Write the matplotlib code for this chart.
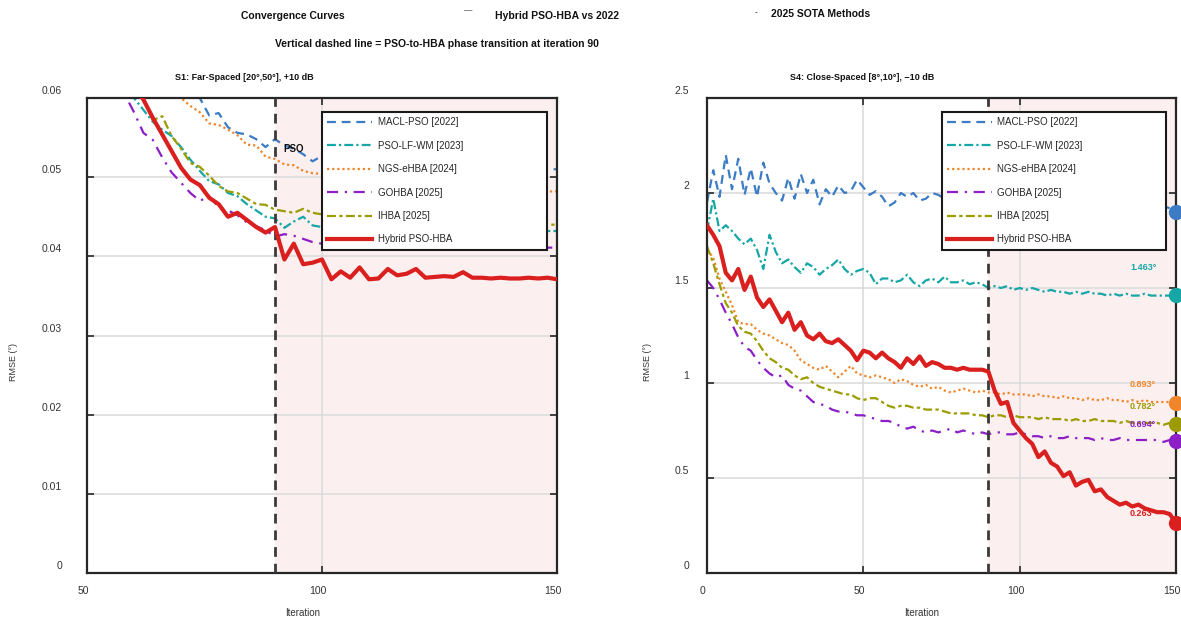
import numpy as np
import matplotlib
matplotlib.use("Agg")
import matplotlib.pyplot as plt
from matplotlib.transforms import ScaledTranslation

plt.rcParams['font.family'] = ['Liberation Sans', 'DejaVu Sans']

# ---------------- data ----------------
methods = ["MACL-PSO [2022]", "PSO-LF-WM [2023]", "NGS-eHBA [2024]",
           "GOHBA [2025]", "IHBA [2025]", "Hybrid PSO-HBA"]

# S1 panel (iterations 50..150 step 2)
it_s1 = np.arange(50, 151, 2)
s1_macl = [0.082, 0.080, 0.078, 0.076, 0.074, 0.072, 0.070, 0.068, 0.066, 0.064,
           0.0625, 0.0612, 0.0600, 0.0578, 0.0581, 0.0563, 0.0556, 0.0554, 0.0548, 0.0538,
           0.0548, 0.0540, 0.0536, 0.0529, 0.0520, 0.0527, 0.0522, 0.0524, 0.0519, 0.0521,
           0.0518, 0.0520, 0.0516, 0.0518, 0.0515, 0.0516, 0.0514, 0.0515, 0.0513, 0.0514,
           0.0512, 0.0513, 0.0512, 0.0511, 0.0512, 0.0511, 0.0510, 0.0511, 0.0510, 0.0510,
           0.0510]
s1_psolf = [0.070, 0.067, 0.065, 0.063, 0.0615, 0.0600, 0.0585, 0.0570, 0.0560, 0.0552,
            0.0538, 0.0522, 0.0508, 0.0495, 0.0491, 0.0480, 0.0476, 0.0466, 0.0458, 0.0450,
            0.0448, 0.0436, 0.0444, 0.0450, 0.0439, 0.0437, 0.0438, 0.0437, 0.0436, 0.0437,
            0.0436, 0.0436, 0.0435, 0.0435, 0.0434, 0.0435, 0.0434, 0.0434, 0.0433, 0.0434,
            0.0433, 0.0433, 0.0433, 0.0432, 0.0433, 0.0432, 0.0432, 0.0432, 0.0432, 0.0432,
            0.0432]
s1_ngs = [0.078, 0.076, 0.074, 0.072, 0.070, 0.068, 0.066, 0.064, 0.0625, 0.0612,
          0.0600, 0.0590, 0.0582, 0.0568, 0.0566, 0.0560, 0.0553, 0.0541, 0.0540, 0.0526,
          0.0523, 0.0516, 0.0515, 0.0508, 0.0505, 0.0504, 0.0502, 0.0500, 0.0498, 0.0497,
          0.0495, 0.0494, 0.0493, 0.0492, 0.0491, 0.0490, 0.0489, 0.0488, 0.0488, 0.0487,
          0.0486, 0.0486, 0.0485, 0.0485, 0.0484, 0.0484, 0.0483, 0.0483, 0.0482, 0.0482,
          0.0482]
s1_gohba = [0.068, 0.066, 0.064, 0.062, 0.0605, 0.0582, 0.0556, 0.0547, 0.0525, 0.0506,
            0.0493, 0.0480, 0.0470, 0.0476, 0.0462, 0.0458, 0.0452, 0.0443, 0.0438, 0.0433,
            0.0425, 0.0428, 0.0426, 0.0422, 0.0418, 0.0416, 0.0415, 0.0415, 0.0414, 0.0414,
            0.0414, 0.0413, 0.0413, 0.0413, 0.0413, 0.0412, 0.0412, 0.0412, 0.0412, 0.0412,
            0.0412, 0.0411, 0.0411, 0.0411, 0.0411, 0.0411, 0.0411, 0.0411, 0.0411, 0.0411,
            0.0411]
s1_ihba = [0.074, 0.071, 0.068, 0.066, 0.064, 0.0618, 0.0598, 0.0572, 0.0577, 0.0552,
           0.0536, 0.0518, 0.0513, 0.0502, 0.0489, 0.0482, 0.0480, 0.0473, 0.0466, 0.0465,
           0.0459, 0.0457, 0.0455, 0.0460, 0.0455, 0.0453, 0.0452, 0.0451, 0.0450, 0.0450,
           0.0449, 0.0448, 0.0448, 0.0447, 0.0446, 0.0446, 0.0445, 0.0445, 0.0444, 0.0444,
           0.0443, 0.0443, 0.0443, 0.0442, 0.0442, 0.0442, 0.0441, 0.0441, 0.0441, 0.0440,
           0.0440]
s1_hybrid = [0.075, 0.072, 0.069, 0.066, 0.0635, 0.0615, 0.0598, 0.0575, 0.0554, 0.0533,
             0.0512, 0.0497, 0.0490, 0.0474, 0.0466, 0.0450, 0.0455, 0.0446, 0.0437, 0.0430,
             0.0437, 0.0396, 0.0416, 0.0390, 0.0392, 0.0396, 0.0371, 0.0381, 0.0373, 0.0386,
             0.0371, 0.0372, 0.0384, 0.0376, 0.0378, 0.0384, 0.0373, 0.0374, 0.0375, 0.0374,
             0.0380, 0.0373, 0.0373, 0.0372, 0.0373, 0.0372, 0.0372, 0.0373, 0.0372, 0.0373,
             0.0371]

# S4 panel (iterations 0..150 step 2)
it_s4 = np.arange(0, 151, 2)
s4_macl = [1.95, 2.12, 1.98, 2.20, 2.02, 2.18, 1.99, 2.13, 1.98, 2.16,
           2.05, 2.00, 1.96, 2.08, 1.97, 2.10, 2.00, 2.07, 1.94, 2.02,
           1.98, 2.04, 2.00, 2.01, 2.07, 2.03, 1.99, 2.01, 1.98, 1.93,
           1.95, 2.00, 1.98, 2.00, 1.96, 1.97, 2.00, 1.99, 1.97, 1.98,
           1.96, 1.98, 1.97, 1.99, 1.96, 1.97, 1.98, 1.96, 1.97, 1.95,
           1.97, 1.96, 1.95, 1.97, 1.96, 1.95, 1.96, 1.94, 1.96, 1.95,
           1.94, 1.95, 1.96, 1.94, 1.95, 1.94, 1.93, 1.95, 1.94, 1.93,
           1.94, 1.93, 1.94, 1.93, 1.92, 1.90]
s4_psolf = [1.80, 1.97, 1.80, 1.83, 1.80, 1.76, 1.73, 1.76, 1.70, 1.60,
            1.78, 1.69, 1.63, 1.65, 1.61, 1.58, 1.63, 1.61, 1.57, 1.60,
            1.62, 1.65, 1.60, 1.57, 1.59, 1.60, 1.58, 1.52, 1.55, 1.55,
            1.53, 1.54, 1.57, 1.53, 1.51, 1.54, 1.55, 1.53, 1.56, 1.53,
            1.53, 1.54, 1.52, 1.53, 1.52, 1.50, 1.51, 1.50, 1.51, 1.49,
            1.50, 1.49, 1.50, 1.49, 1.48, 1.49, 1.48, 1.48, 1.47, 1.48,
            1.47, 1.48, 1.47, 1.47, 1.46, 1.47, 1.46, 1.47, 1.46, 1.46,
            1.47, 1.46, 1.46, 1.46, 1.46, 1.463]
s4_ngs = [1.70, 1.66, 1.55, 1.48, 1.41, 1.32, 1.31, 1.31, 1.28, 1.26,
          1.25, 1.23, 1.21, 1.20, 1.17, 1.12, 1.10, 1.08, 1.07, 1.09,
          1.06, 1.03, 1.06, 1.09, 1.05, 1.04, 1.03, 1.04, 1.03, 1.02,
          1.00, 1.02, 1.01, 0.99, 0.98, 0.99, 0.97, 0.98, 0.96, 0.95,
          0.96, 0.97, 0.96, 0.95, 0.96, 0.95, 0.95, 0.94, 0.95, 0.94,
          0.94, 0.94, 0.93, 0.94, 0.93, 0.93, 0.92, 0.93, 0.92, 0.92,
          0.91, 0.92, 0.91, 0.91, 0.92, 0.91, 0.91, 0.90, 0.91, 0.90,
          0.91, 0.90, 0.90, 0.90, 0.90, 0.893]
s4_gohba = [1.54, 1.50, 1.44, 1.37, 1.31, 1.24, 1.19, 1.17, 1.12, 1.08,
            1.05, 1.03, 1.04, 0.99, 0.97, 0.96, 0.93, 0.90, 0.89, 0.88,
            0.86, 0.85, 0.85, 0.84, 0.83, 0.83, 0.82, 0.81, 0.80, 0.80,
            0.79, 0.77, 0.76, 0.77, 0.75, 0.74, 0.75, 0.74, 0.75, 0.76,
            0.74, 0.75, 0.74, 0.73, 0.74, 0.73, 0.74, 0.74, 0.73, 0.73,
            0.74, 0.73, 0.72, 0.72, 0.71, 0.72, 0.71, 0.71, 0.72, 0.71,
            0.71, 0.71, 0.70, 0.71, 0.70, 0.70, 0.71, 0.70, 0.70, 0.70,
            0.70, 0.70, 0.70, 0.69, 0.70, 0.694]
s4_ihba = [1.72, 1.63, 1.52, 1.42, 1.37, 1.30, 1.27, 1.26, 1.22, 1.17,
           1.13, 1.11, 1.08, 1.07, 1.04, 1.02, 1.03, 1.00, 0.98, 0.97,
           0.96, 0.95, 0.94, 0.94, 0.92, 0.91, 0.92, 0.92, 0.90, 0.88,
           0.87, 0.88, 0.88, 0.87, 0.87, 0.86, 0.86, 0.86, 0.85, 0.84,
           0.84, 0.84, 0.84, 0.83, 0.83, 0.82, 0.83, 0.83, 0.82, 0.83,
           0.82, 0.82, 0.82, 0.81, 0.82, 0.81, 0.81, 0.81, 0.80, 0.81,
           0.80, 0.80, 0.81, 0.80, 0.80, 0.80, 0.79, 0.80, 0.79, 0.79,
           0.79, 0.79, 0.79, 0.78, 0.79, 0.782]
s4_hybrid = [1.83, 1.78, 1.72, 1.58, 1.54, 1.60, 1.49, 1.56, 1.45, 1.40,
             1.44, 1.38, 1.32, 1.37, 1.28, 1.32, 1.25, 1.23, 1.26, 1.22,
             1.21, 1.23, 1.20, 1.17, 1.12, 1.17, 1.16, 1.13, 1.16, 1.13,
             1.11, 1.08, 1.13, 1.10, 1.14, 1.09, 1.11, 1.10, 1.08, 1.08,
             1.07, 1.08, 1.07, 1.07, 1.07, 1.06, 0.96, 0.89, 0.90, 0.79,
             0.75, 0.71, 0.68, 0.61, 0.64, 0.58, 0.56, 0.51, 0.53, 0.46,
             0.48, 0.49, 0.43, 0.44, 0.40, 0.38, 0.36, 0.37, 0.35, 0.36,
             0.34, 0.33, 0.32, 0.32, 0.31, 0.263]

transition_iter = 90

s1_yticks = [0, 0.01, 0.02, 0.03, 0.04, 0.05, 0.06]
s1_yticklabels = ["0", "0.01", "0.02", "0.03", "0.04", "0.05", "0.06"]
s1_xticks = [50, 100, 150]
s4_yticks = [0, 0.5, 1, 1.5, 2, 2.5]
s4_yticklabels = ["0", "0.5", "1", "1.5", "2", "2.5"]
s4_xticks = [0, 50, 100, 150]

# ---------------- styles ----------------
colors = ['#3C7CC4', '#16A6A6', '#F0862A', '#8C1FC6', '#9C9C00', '#DA1F1F']
styles = [(0, (4, 2.6)), (0, (4, 1.4, 1, 1.4)), (0, (1, 1.3)),
          (0, (5, 3, 1, 3)), (0, (4, 1.5, 1.5, 1.5)), '-']
widths = [1.6, 1.6, 1.6, 1.6, 1.6, 3.0]
DARK = '#262626'

W, H = 1181, 621
fig = plt.figure(figsize=(W / 100, H / 100), dpi=100)
ax1 = fig.add_axes([87 / W, 48 / H, 470 / W, 475 / H])
ax2 = fig.add_axes([707 / W, 48 / H, 469 / W, 475 / H])

s1_series = [s1_macl, s1_psolf, s1_ngs, s1_gohba, s1_ihba, s1_hybrid]
s4_series = [s4_macl, s4_psolf, s4_ngs, s4_gohba, s4_ihba, s4_hybrid]


def style_axes(ax, xlim, ylim, xticks, yticks, yticklabels, ypad):
    ax.set_xlim(*xlim)
    ax.set_ylim(*ylim)
    ax.axvspan(transition_iter, xlim[1], color='#FBEFEF', lw=0, zorder=0)
    ax.set_axisbelow(True)
    ax.grid(True, color='#DCDCDC', lw=1.2)
    ax.set_xticks(xticks)
    ax.set_yticks(yticks)
    ax.set_yticklabels(yticklabels)
    ax.tick_params(direction='in', length=5, width=1.2, top=True, right=True,
                   colors=DARK, labelsize=7.5, labelcolor='#333333')
    ax.tick_params(axis='y', pad=ypad)
    ax.tick_params(axis='x', pad=9)
    for sp in ax.spines.values():
        sp.set_linewidth(1.6)
        sp.set_color(DARK)
    ax.axvline(transition_iter, color='#3A3A3A', lw=2.0, ls=(0, (3.5, 2.5)), zorder=2.6)
    for lab in ax.get_yticklabels():
        lab.set_transform(lab.get_transform() + ScaledTranslation(0, 8 / 100, fig.dpi_scale_trans))
    for lab in ax.get_xticklabels():
        lab.set_transform(lab.get_transform() + ScaledTranslation(-4 / 100, 0, fig.dpi_scale_trans))


style_axes(ax1, (50, 150), (0, 0.06), s1_xticks, s1_yticks, s1_yticklabels, 18)
style_axes(ax2, (0, 150), (0, 2.5), s4_xticks, s4_yticks, s4_yticklabels, 13)

for ax, xs, series in [(ax1, it_s1, s1_series), (ax2, it_s4, s4_series)]:
    for i, (name, ys) in enumerate(zip(methods, series)):
        ax.plot(xs, ys, color=colors[i], ls=styles[i], lw=widths[i],
                label=name, zorder=3 if i == 5 else 2)
    leg = ax.legend(loc='upper left', bbox_to_anchor=(0.5, 0.665, 0.479, 0.3055),
                    mode='expand', borderaxespad=0, fontsize=7, handlelength=4.6,
                    labelspacing=1.38, handletextpad=0.6, borderpad=0.55,
                    frameon=True, fancybox=False, edgecolor='#1a1a1a',
                    facecolor='white', framealpha=1.0)
    leg.get_frame().set_linewidth(1.5)
    leg.set_zorder(10)
    for t in leg.get_texts():
        t.set_color('#262626')

# phase label
ax1.text(94, 0.0535, "PSO", fontsize=7, fontweight='bold', ha='center', va='center',
         color='#111111', zorder=4)

# end markers and value labels on S4 (MACL label sits under the legend)
for i, ys in enumerate(s4_series):
    v = ys[-1]
    ax2.plot([it_s4[-1]], [v], 'o', color=colors[i], ms=10, clip_on=False, zorder=4)
    if i == 0:
        continue
    ax2.text(139.5, v * 1.08 + 0.03, f"{v:.3f}°", color=colors[i], fontsize=6.5,
             fontweight='bold', ha='center', va='center', zorder=4)

# subplot titles and axis labels
ax1.text(0.335, 1.043, "S1: Far-Spaced [20°,50°], +10 dB", transform=ax1.transAxes,
         fontsize=6.5, fontweight='bold', ha='center', va='center', color='#111111')
ax2.text(0.33, 1.043, "S4: Close-Spaced [8°,10°], \u221210 dB", transform=ax2.transAxes,
         fontsize=6.5, fontweight='bold', ha='center', va='center', color='#111111')
for ax, xc in [(ax1, (303 - 87) / 470), (ax2, (922 - 707) / 469)]:
    ax.text(xc, -0.084, "Iteration", transform=ax.transAxes, fontsize=7,
            ha='center', va='center', color='#333333')
ax1.text((14 - 87) / 470, (573 - 362) / 475, "RMSE (°)", transform=ax1.transAxes,
         rotation=90, fontsize=6.5, ha='center', va='center', color='#333333')
ax2.text((648 - 707) / 469, (573 - 362) / 475, "RMSE (°)", transform=ax2.transAxes,
         rotation=90, fontsize=6.5, ha='center', va='center', color='#333333')

# figure title pieces
tkw = dict(fontsize=7.5, fontweight='bold', ha='center', va='center', color='#111111')
fig.text(293 / W, 1 - 16 / H, "Convergence Curves", **tkw)
fig.text(468 / W, 1 - 11 / H, "\u2014", fontsize=6, ha='center', va='center', color='#111111')
fig.text(557 / W, 1 - 16 / H, "Hybrid PSO-HBA vs 2022", **tkw)
fig.text(756 / W, 1 - 13 / H, "-", fontsize=6, ha='center', va='center', color='#111111')
fig.text(821 / W, 1 - 14 / H, "2025 SOTA Methods", **tkw)
fig.text(437 / W, 1 - 44 / H, "Vertical dashed line = PSO-to-HBA phase transition at iteration 90", **tkw)

fig.savefig("out.png", dpi=100)
